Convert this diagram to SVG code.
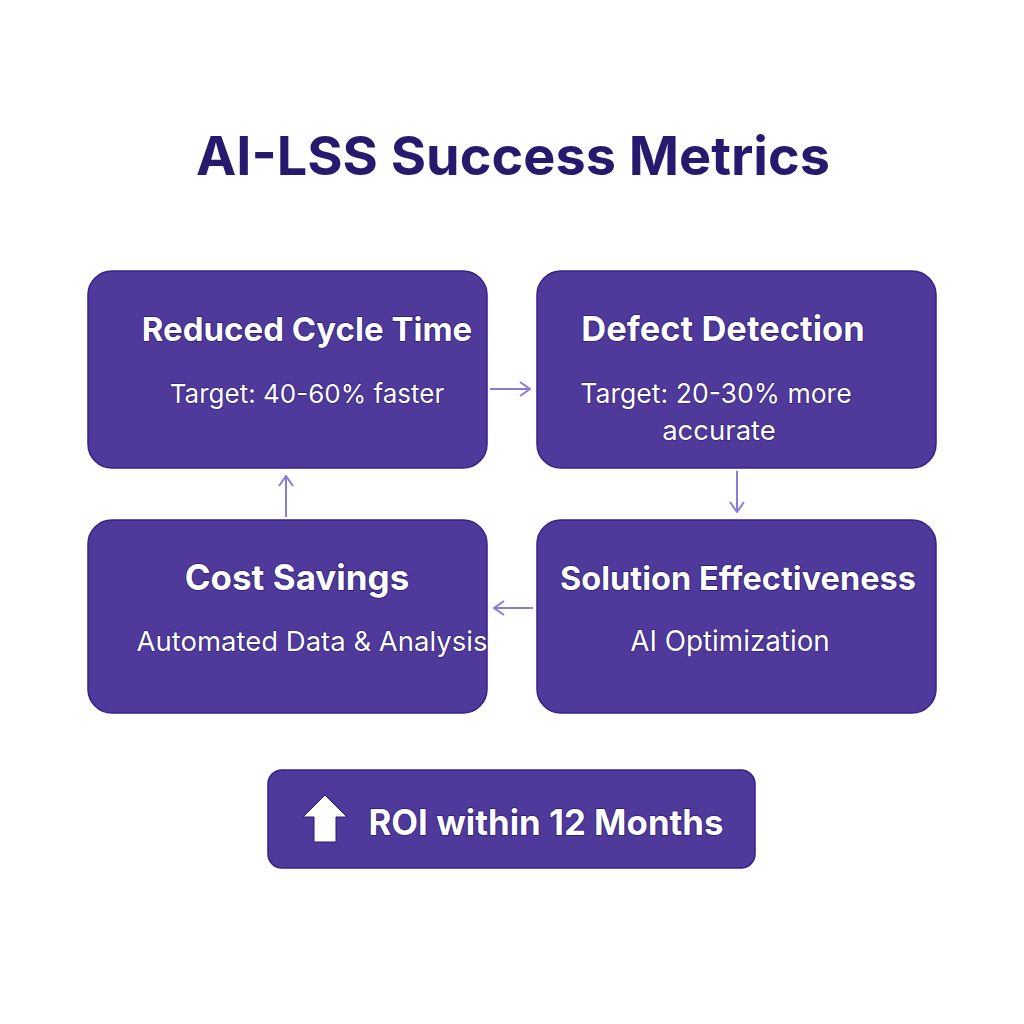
<svg xmlns="http://www.w3.org/2000/svg" width="1024" height="1024" viewBox="0 0 1024 1024">
<style>
.box{fill:#4f399b;stroke:#35228a;stroke-width:1.5}
.t{font-family:Inter,"Liberation Sans",sans-serif;font-weight:700;fill:#fff;text-anchor:middle;stroke:#2a1a72;stroke-width:1.5;paint-order:stroke}
.s{font-family:Inter,"Liberation Sans",sans-serif;font-weight:400;fill:#fff;text-anchor:middle;stroke:#2a1a72;stroke-width:1.2;paint-order:stroke}
.c{stroke:#8b7bd6;stroke-width:2;fill:none;marker-end:url(#ah)}
</style>
<defs>
<marker id="ah" viewBox="0 0 12 16" refX="11" refY="8" markerWidth="12" markerHeight="16" markerUnits="userSpaceOnUse" orient="auto">
<path d="M1,1 L11,8 L1,15" fill="none" stroke="#8b7bd6" stroke-width="2"/>
</marker>
</defs>
<rect width="1024" height="1024" fill="#fff"/>
<text x="513" y="175" font-family="Inter,'Liberation Sans',sans-serif" font-weight="700" font-size="54" fill="#271a6e" text-anchor="middle">AI-LSS Success Metrics</text>
<g id="connectors">
<line class="c" x1="490" y1="389" x2="530" y2="389"/>
<line class="c" x1="737" y1="471" x2="737" y2="512"/>
<line class="c" x1="533" y1="608" x2="494" y2="608"/>
<line class="c" x1="286" y1="517" x2="286" y2="476"/>
</g>
<g id="reduced-cycle-time">
<rect class="box" x="88" y="271" width="399" height="197" rx="24"/>
<text class="t" x="307" y="341" font-size="33">Reduced Cycle Time</text>
<text class="s" x="307" y="403" font-size="26">Target: 40-60% faster</text>
</g>
<g id="defect-detection">
<rect class="box" x="537" y="271" width="399" height="197" rx="24"/>
<text class="t" x="723" y="341" font-size="34.5">Defect Detection</text>
<text class="s" x="716" y="403" font-size="26.6">Target: 20-30% more</text>
<text class="s" x="719" y="440" font-size="27.5">accurate</text>
</g>
<g id="cost-savings">
<rect class="box" x="88" y="520" width="399" height="193" rx="24"/>
<text class="t" x="297" y="590" font-size="35">Cost Savings</text>
<text class="s" x="312" y="651" font-size="27.5">Automated Data &amp; Analysis</text>
</g>
<g id="solution-effectiveness">
<rect class="box" x="537" y="520" width="399" height="193" rx="24"/>
<text class="t" x="738" y="590" font-size="32.5">Solution Effectiveness</text>
<text class="s" x="730" y="651" font-size="27.8">AI Optimization</text>
</g>
<g id="roi">
<rect class="box" x="268" y="770" width="487" height="98" rx="14"/>
<path d="M325,795 L347,817 L336,817 L336,842 L314,842 L314,817 L303,817 Z" fill="#fff" stroke="#2a1a72" stroke-width="1" stroke-linejoin="round"/>
<text class="t" x="546" y="835" font-size="34.8">ROI within 12 Months</text>
</g>
</svg>
